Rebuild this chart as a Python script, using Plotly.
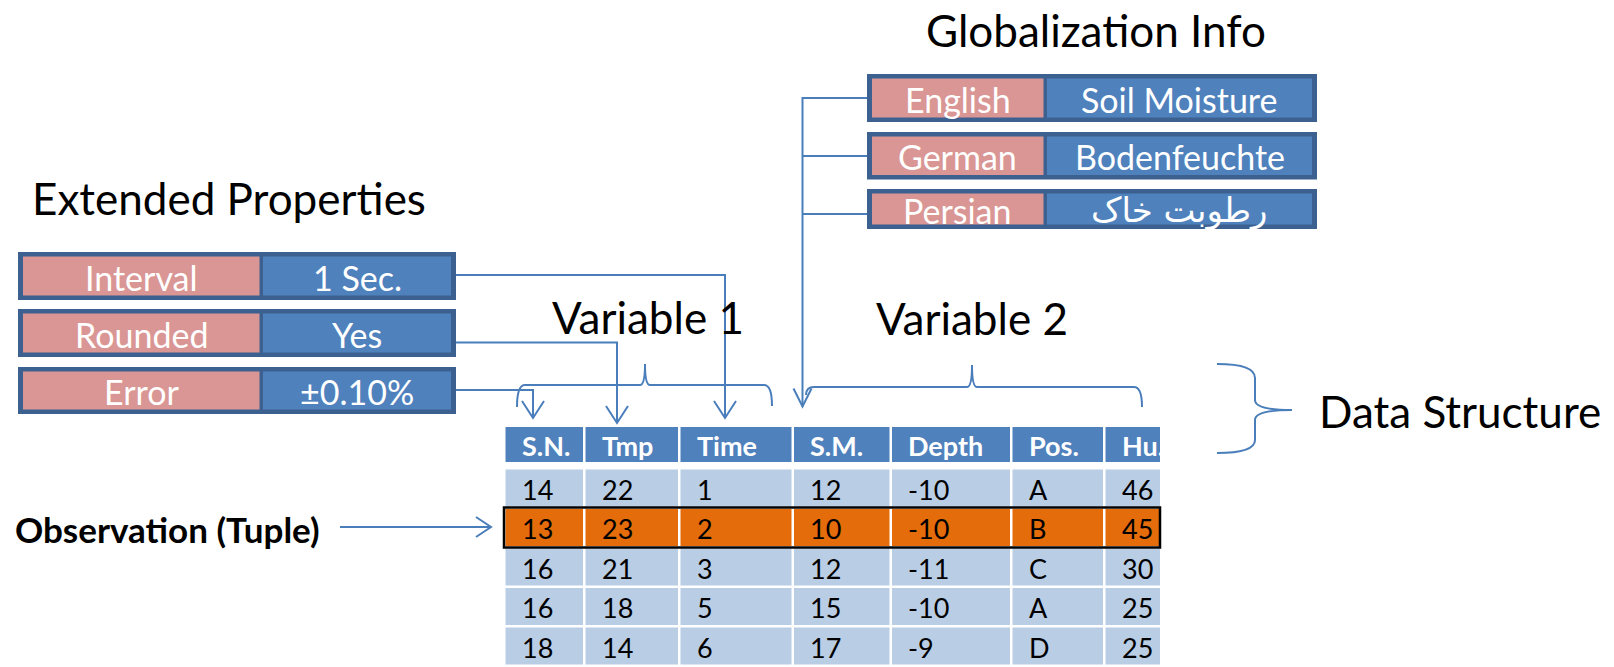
import plotly.graph_objects as go

# ---------------- data ----------------
table_columns = ["S.N.", "Tmp", "Time", "S.M.", "Depth", "Pos.", "Hu."]
table_rows = [
    ["14", "22", "1", "12", "-10", "A", "46"],
    ["13", "23", "2", "10", "-10", "B", "45"],
    ["16", "21", "3", "12", "-11", "C", "30"],
    ["16", "18", "5", "15", "-10", "A", "25"],
    ["18", "14", "6", "17", "-9", "D", "25"],
]
highlight_row = 1

ext_names = ["Interval", "Rounded", "Error"]
ext_values = ["1 Sec.", "Yes", "±0.10%"]

glob_langs = ["English", "German", "Persian"]
glob_values = ["Soil Moisture", "Bodenfeuchte", "رطوبت خاک"]

titles = {
    "glob": "Globalization Info",
    "ext": "Extended Properties",
    "var1": "Variable 1",
    "var2": "Variable 2",
    "ds": "Data Structure",
    "obs": "Observation (Tuple)",
}

# ---------------- style / layout constants ----------------
W, H = 1614, 667
LINE = "#4A7EBB"
HEAD = "#4F81BD"
CELL = "#B9CDE5"
ORANGE = "#E46C0A"
PINK = "#D99694"
BLUE = "#4F81BD"
DARK = "#3C6190"
FONT = "Lato, 'DejaVu Sans', sans-serif"

col_edges = [(505.5, 583), (585.5, 678), (680.5, 791.5), (794, 889.5),
             (892, 1010), (1012.5, 1103), (1105.5, 1160)]
head_y = (427, 462)
row_tops = [469.5, 509, 548.5, 588, 627.5]
row_h = 37

ext_x = (18, 259.5, 263, 456)
ext_rows = [(252, 300), (309, 357), (367, 414)]
glob_x = (867, 1043.5, 1047, 1317)
glob_rows = [(74, 122), (132, 179.5), (189, 229)]

shapes = []
ann = []


def rect(x0, y0, x1, y1, fill, lw=0, lc=None):
    shapes.append(dict(type="rect", x0=x0, y0=y0, x1=x1, y1=y1, xref="x", yref="y",
                       fillcolor=fill, line=dict(width=lw, color=lc or fill), layer="below"))


def path(d, color=LINE, width=2):
    shapes.append(dict(type="path", path=d, xref="x", yref="y",
                       line=dict(color=color, width=width), fillcolor="rgba(0,0,0,0)"))


def arrow_down(x, y, back=17, half=11):
    path(f"M {x-half} {y-back} L {x} {y} L {x+half} {y-back}")


def text(x, y, s, size, color="black", bold=False, xanchor="center", family=FONT):
    ann.append(dict(x=x, y=y, xref="x", yref="y", text=f"<b>{s}</b>" if bold else s,
                    showarrow=False, xanchor=xanchor, yanchor="middle",
                    font=dict(family=family, size=size, color=color)))


# ---------------- property boxes ----------------
def prop_boxes(xs, rows, names, values, size):
    x0, xp, xb, x1 = xs
    for (y0, y1), n, v in zip(rows, names, values):
        rect(x0, y0, x1, y1, DARK)
        rect(x0 + 5, y0 + 4.5, xp, y1 - 4.5, PINK)
        rect(xb, y0 + 4.5, x1 - 5, y1 - 4.5, BLUE)
        cy = (y0 + y1) / 2 + 1
        text((x0 + 5 + xp) / 2, cy, n, size, "white")
        fam = "'DejaVu Sans', sans-serif" if any('\u0600' <= c <= '\u06FF' for c in v) else FONT
        text((xb + x1 - 5) / 2, cy, v, size, "white", family=fam)


prop_boxes(ext_x, ext_rows, ext_names, ext_values, 34)
prop_boxes(glob_x, glob_rows, glob_langs, glob_values, 34)

# ---------------- table ----------------
for (c0, c1), name in zip(col_edges, table_columns):
    rect(c0, head_y[0], c1, head_y[1], HEAD)
    text(c0 + 14, (head_y[0] + head_y[1]) / 2 + 1, name, 27, "white", bold=True, xanchor="left")
for r, (top, vals) in enumerate(zip(row_tops, table_rows)):
    fill = ORANGE if r == highlight_row else CELL
    for (c0, c1), v in zip(col_edges, vals):
        rect(c0, top, c1, top + row_h, fill)
        text(c0 + 14, top + row_h / 2 + 1, v, 27, "black", xanchor="left")
hr = row_tops[highlight_row]
shapes.append(dict(type="rect", x0=504, y0=hr - 1.5, x1=1160, y1=hr + row_h + 1.5,
                   xref="x", yref="y", line=dict(color="black", width=2.5),
                   fillcolor="rgba(0,0,0,0)"))

# ---------------- connectors ----------------
# extended properties -> columns
path("M 456 275 L 725 275 L 725 418"); arrow_down(725, 418)
path("M 456 342.5 L 617 342.5 L 617 423"); arrow_down(617, 423)
path("M 456 390 L 533 390 L 533 418"); arrow_down(533, 418)
# globalization -> variable 2
path("M 867 98 L 802.5 98 L 802.5 406.5"); arrow_down(802.5, 406.5, back=18, half=9)
path("M 802.5 156 L 867 156")
path("M 802.5 214 L 867 214")
# observation arrow
path("M 340 527 L 491 527")
path("M 476 517 L 491 527 L 476 537")

# ---------------- braces ----------------
path("M 517 407 Q 517 385 525 385 L 640 385 Q 645 385 645 364 Q 645 385 650 385 "
     "L 764 385 Q 772 385 772 406")
path("M 806 395 Q 806 387 814 387 L 967 387 Q 972 387 972 365 Q 972 387 977 387 "
     "L 1134 387 Q 1142 387 1142 407")
path("M 1217 364 Q 1255 364 1255 378 L 1255 400 Q 1255 410 1292 410 "
     "Q 1255 410 1255 420 L 1255 440 Q 1255 453 1217 453")

# ---------------- titles ----------------
text(1096, 30, titles["glob"], 44)
text(229, 198, titles["ext"], 44)
text(648, 317, titles["var1"], 44)
text(972, 318, titles["var2"], 44)
text(1317, 411, titles["ds"], 44, xanchor="left")
text(13, 529, titles["obs"], 35, bold=True, xanchor="left")

fig = go.Figure()
fig.update_layout(
    width=W, height=H, margin=dict(l=0, r=0, t=0, b=0),
    paper_bgcolor="white", plot_bgcolor="white",
    xaxis=dict(range=[0, W], visible=False, fixedrange=True),
    yaxis=dict(range=[H, 0], visible=False, fixedrange=True),
    shapes=shapes, annotations=ann, showlegend=False,
)
fig.write_html("out.html", config={"displayModeBar": False},
               post_script="document.body.style.margin='0';document.body.style.overflow='hidden';")
